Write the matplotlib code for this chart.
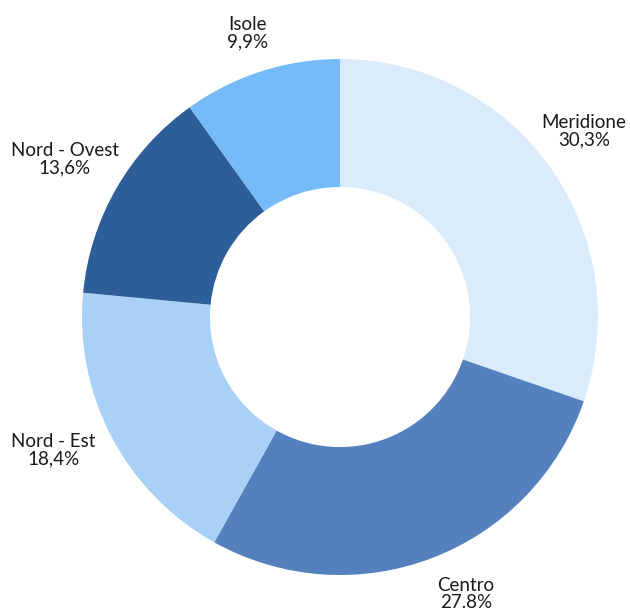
import matplotlib.pyplot as plt

# Quote per area geografica
aree = ['Meridione', 'Centro', 'Nord - Est', 'Nord - Ovest', 'Isole']
quote = [30.3, 27.8, 18.4, 13.6, 9.9]
etichette = ['30,3%', '27.8%', '18,4%', '13,6%', '9,9%']
colori = ['#DAEBFC', '#5480BE', '#A9D1F7', '#2E5E98', '#75BBF9']

# posizione delle etichette (in unità del raggio esterno)
pos_etichette = [(0.946, 0.721), (0.488, -1.074), (-1.112, -0.516),
                 (-1.066, 0.612), (-0.357, 1.101)]

plt.rcParams['font.family'] = ['Lato', 'DejaVu Sans']

fig = plt.figure(figsize=(6.3, 6.12), dpi=100)
ax = fig.add_axes([0, 0, 1, 1])

wedges, _ = ax.pie(quote, colors=colori, startangle=90, counterclock=False,
                   radius=1, wedgeprops=dict(width=0.496, linewidth=0))

for nome, lab, (x, y) in zip(aree, etichette, pos_etichette):
    ax.text(x, y, nome + '\n' + lab, ha='center', va='center',
            fontsize=13.5, linespacing=1.0, color='#1a1a1a')

R = 258.0
ax.set_xlim(-340 / R, (630 - 340) / R)
ax.set_ylim(-295 / R, (612 - 295) / R)
ax.set_aspect('auto')
ax.axis('off')

fig.savefig('out.png', dpi=100)
